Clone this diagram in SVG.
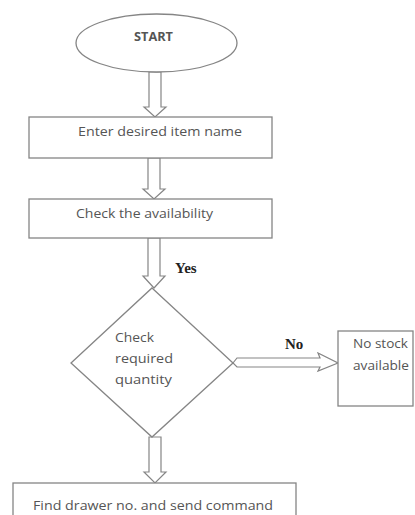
<svg xmlns="http://www.w3.org/2000/svg" width="415" height="515" viewBox="0 0 415 515">
<style>
.shape{fill:#fff;stroke:#858585;stroke-width:1.3}
.arrow{fill:#fff;stroke:#858585;stroke-width:1.2}
.t{font-family:"Open Sans","Liberation Sans",sans-serif;font-size:12.5px;fill:#555}
.lbl{font-family:"Liberation Serif",serif;font-size:15px;font-weight:bold;fill:#222}
</style>
<rect width="415" height="515" fill="#fff"/>
<g id="connectors">
<polygon class="arrow" points="149,72 161,72 161,107 166,107 155,117 144,107 149,107"/>
<polygon class="arrow" points="148,158 160,158 160,189 165,189 154,199 143,189 148,189"/>
<polygon class="arrow" points="148,238 160,238 160,276 165,276 154,288 143,276 148,276"/>
<polygon class="arrow" points="233,363 237,358 320,358 318,353 338,363 318,371 320,367 237,367"/>
<polygon class="arrow" points="149,437 161,437 161,472 166,472 155,483 144,472 149,472"/>
<text class="lbl" x="175" y="273">Yes</text>
<text class="lbl" x="285" y="349">No</text>
</g>
<g id="start">
<ellipse class="shape" cx="156.5" cy="43" rx="80.5" ry="29"/>
<text class="t" x="134" y="41" font-size="10" font-weight="bold" textLength="39" lengthAdjust="spacingAndGlyphs">START</text>
</g>
<g id="enter">
<rect class="shape" x="29" y="117" width="243" height="41"/>
<text class="t" x="78" y="136" textLength="164" lengthAdjust="spacingAndGlyphs">Enter desired item name</text>
</g>
<g id="check">
<rect class="shape" x="29" y="199" width="243" height="39"/>
<text class="t" x="76" y="218" textLength="137" lengthAdjust="spacingAndGlyphs">Check the availability</text>
</g>
<g id="decision">
<polygon class="shape" points="152,288 233,363 152,437 71,363"/>
<text class="t" x="115" y="342" textLength="39" lengthAdjust="spacingAndGlyphs">Check</text>
<text class="t" x="115" y="363" textLength="58" lengthAdjust="spacingAndGlyphs">required</text>
<text class="t" x="115" y="384" textLength="57" lengthAdjust="spacingAndGlyphs">quantity</text>
</g>
<g id="nostock">
<rect class="shape" x="338" y="331" width="75" height="75"/>
<text class="t" x="353" y="348" textLength="55" lengthAdjust="spacingAndGlyphs">No stock</text>
<text class="t" x="353" y="370" textLength="56" lengthAdjust="spacingAndGlyphs">available</text>
</g>
<g id="find">
<rect class="shape" x="13" y="483" width="283" height="40"/>
<text class="t" x="33" y="510" textLength="240" lengthAdjust="spacingAndGlyphs">Find drawer no. and send command</text>
</g>
</svg>
